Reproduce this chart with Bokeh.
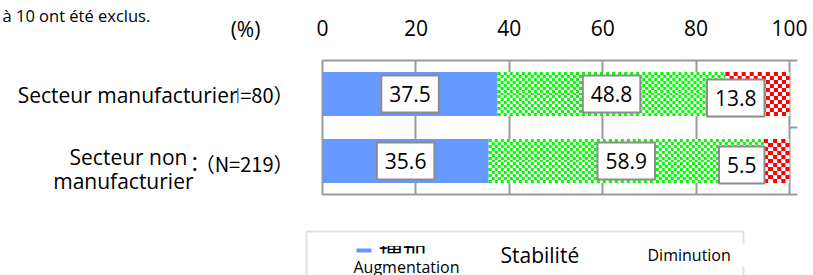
import numpy as np
from bokeh.plotting import figure
from bokeh.layouts import column, row
from bokeh.models import (ColumnDataSource, Range1d, FixedTicker, LinearAxis, Label,
                          BoxAnnotation)
from bokeh.embed import file_html
from bokeh.resources import INLINE

# ---- data ----
categories = ["Secteur manufacturier", "Secteur non\nmanufacturier"]
n_labels = ["（N=80）", "：（N=219）"]
increase = [37.5, 35.6]
stable = [48.8, 58.9]
decrease = [13.8, 5.5]
x_ticks = [0, 20, 40, 60, 80, 100]
series_names = ["Augmentation", "Stabilité", "Diminution"]
jp_increase = "増加"
note_text = "à 10 ont été exclus."
unit_text = "(%)"

# ---- layout (canvas px) ----
W = 813
TOP_H = 225          # height of the upper row
LEG_H = 50           # height of legend strip
LEFT_W = 300         # width of the label panel
FL, FT, FW, FH = 322, 60, 467, 134   # plot frame in page px
PXX = FW / 100.0
PXY = FH / 2.0

FONT = "Open Sans"
CJK = "Noto Sans CJK JP"
BLUE = "#6699ff"
GREEN = (0, 255, 0)
RED = (255, 0, 0)
GRAY = "#9a9a9a"


def blank_fig(width, height, x_range, y_range):
    f = figure(width=width, height=height, output_backend="svg", toolbar_location=None,
               x_range=x_range, y_range=y_range, x_axis_location=None,
               y_axis_location=None, min_border=0)
    f.outline_line_color = None
    f.xgrid.grid_line_color = None
    f.ygrid.grid_line_color = None
    f.background_fill_color = "white"
    f.border_fill_color = "white"
    return f


def checker_img(wpx, hpx, cell, rgb):
    nx = max(1, int(round(wpx / cell)))
    ny = max(1, int(round(hpx / cell)))
    jj, ii = np.meshgrid(np.arange(nx), np.arange(ny))
    on = ((ii + jj) % 2) == 0
    img = np.empty((ny, nx), dtype=np.uint32)
    view = img.view(dtype=np.uint8).reshape((ny, nx, 4))
    view[..., 3] = 255
    for k in range(3):
        view[..., k] = np.where(on, rgb[k], 255)
    return img


# ================= main plot =================
ML = FL - LEFT_W
p = figure(width=W - LEFT_W, height=TOP_H, output_backend="svg", toolbar_location=None,
           x_range=Range1d(0, 100), y_range=Range1d(0, 2),
           x_axis_location="above", y_axis_location=None,
           min_border_left=ML, min_border_right=W - FL - FW,
           min_border_top=FT, min_border_bottom=TOP_H - FT - FH)
p.outline_line_color = GRAY
p.outline_line_width = 2
p.background_fill_color = "white"
p.border_fill_color = "white"

xa = p.xaxis[0]
xa.ticker = FixedTicker(ticks=x_ticks)
xa.axis_line_color = None
xa.major_tick_line_color = None
xa.minor_tick_line_color = None
xa.major_label_text_font = FONT
xa.major_label_text_font_size = "21px"
xa.major_label_text_color = "black"
xa.major_label_standoff = 19

p.xgrid.ticker = FixedTicker(ticks=x_ticks)
p.xgrid.grid_line_color = GRAY
p.xgrid.grid_line_width = 2
p.ygrid.grid_line_color = None

ra = LinearAxis(ticker=FixedTicker(ticks=[0, 1, 2]))
ra.axis_line_color = None
ra.major_tick_line_color = GRAY
ra.major_tick_line_width = 2
ra.major_tick_out = 8
ra.major_tick_in = 0
ra.minor_tick_line_color = None
ra.major_label_text_color = None
ra.major_label_text_font_size = "1px"
p.add_layout(ra, "right")

n = len(categories)
ypos = [n - i - 0.5 for i in range(n)]
l1 = [0.0] * n
r1 = list(increase)
r2 = [a + b for a, b in zip(increase, stable)]
r3 = [a + b + c for a, b, c in zip(increase, stable, decrease)]
src = ColumnDataSource(dict(y=ypos, l1=l1, r1=r1, r2=r2, r3=r3))
BH = 44 / PXY

p.hbar(y="y", left="l1", right="r1", height=BH, source=src,
       fill_color=BLUE, line_color=None)
p.hbar(y="y", left="r1", right="r2", height=BH, source=src,
       fill_color="#80ff80", line_color=None)
p.hbar(y="y", left="r2", right="r3", height=BH, source=src,
       fill_color="#ff8080", line_color=None)

imgs, xs, ys, dws, dhs = [], [], [], [], []
for i in range(n):
    for left, width, cell, rgb in ((r1[i], stable[i], 3, GREEN),
                                   (r2[i], decrease[i], 4, RED)):
        imgs.append(checker_img(width * PXX, 44, cell, rgb))
        xs.append(left)
        ys.append(ypos[i] - BH / 2)
        dws.append(width)
        dhs.append(BH)
p.image_rgba(image=imgs, x=xs, y=ys, dw=dws, dh=dhs)


def val_label(x, y, v, align):
    p.add_layout(Label(x=x, y=y, text=f"{v:.1f}", text_font=FONT, text_font_size="21px",
                       text_color="black", text_align=align, text_baseline="middle",
                       background_fill_color="white", border_line_color="#8c8c8c",
                       border_line_width=2,
                       padding=dict(left=8, right=8, top=10, bottom=11)))


for i in range(n):
    val_label(increase[i] / 2, ypos[i], increase[i], "center")
    val_label(increase[i] + stable[i] / 2, ypos[i], stable[i], "center")
    val_label(100 - 25 / PXX, ypos[i] - 4 / PXY, decrease[i], "right")

# ================= left label panel (pixel coordinates, y down) =================
lf = blank_fig(LEFT_W, TOP_H, Range1d(0, LEFT_W), Range1d(TOP_H, 0))


def llabel(f, x, y, text, size, align="left", font=FONT, baseline="middle", **kw):
    f.add_layout(Label(x=x, y=y, text=text, text_font=font, text_font_size=size,
                       text_align=align, text_baseline=baseline, text_color="black", **kw))


for i, (cat, nl) in enumerate(zip(categories, n_labels)):
    yc = FT + (i + 0.5) * PXY
    if "\n" not in cat:
        llabel(lf, 293, yc + 0.5, nl, "20px", "right", font=CJK)
        llabel(lf, 237, yc + 0.5, cat, "21px", "right", background_fill_color="white")
    else:
        a, b = cat.split("\n")
        llabel(lf, 293, yc + 2, nl, "20px", "right", font=CJK)
        llabel(lf, 187, yc - 4.5, a, "21px", "right")
        llabel(lf, 193, yc + 19.5, b, "21px", "right")

llabel(lf, 245, 28, unit_text, "21px", "center")
llabel(lf, 2, 15, note_text, "16.5px", "left", baseline="alphabetic")

# ================= legend strip (pixel coordinates, y down) =================
lg = blank_fig(W, LEG_H, Range1d(0, W), Range1d(TOP_H + LEG_H, TOP_H))


def box(f, l, r, t, b, **kw):
    f.add_layout(BoxAnnotation(left=l, right=r, top=t, bottom=b, **kw))


box(lg, 306, 743, 231, 330, fill_color="white", fill_alpha=1, line_color=GRAY,
    line_width=2)
box(lg, 356, 371, 248, 252, fill_color=BLUE, fill_alpha=1, line_color=None)
llabel(lg, 378, 251, jp_increase, "24px", "left", font=CJK)
box(lg, 373, 440, 233, 245.5, fill_color="white", fill_alpha=1, line_color=None)
llabel(lg, 353, 265, series_names[0], "16px", "left", background_fill_color="white",
       padding=dict(left=0, right=0, top=2, bottom=0))
lg.image_rgba(image=[checker_img(15, 15, 3, GREEN), checker_img(15, 15, 3.75, RED)],
              x=[480, 628], y=[262, 262], dw=[15, 15], dh=[-15, -15])
llabel(lg, 500, 254, series_names[1], "21px", "left")
box(lg, 738, 748, 244, 266, fill_color="white", fill_alpha=1, line_color=None)
llabel(lg, 647, 254, series_names[2], "16px", "left")

layout = column(row(column(lf), p), lg)
open("out.html", "w").write(file_html(layout, INLINE))
